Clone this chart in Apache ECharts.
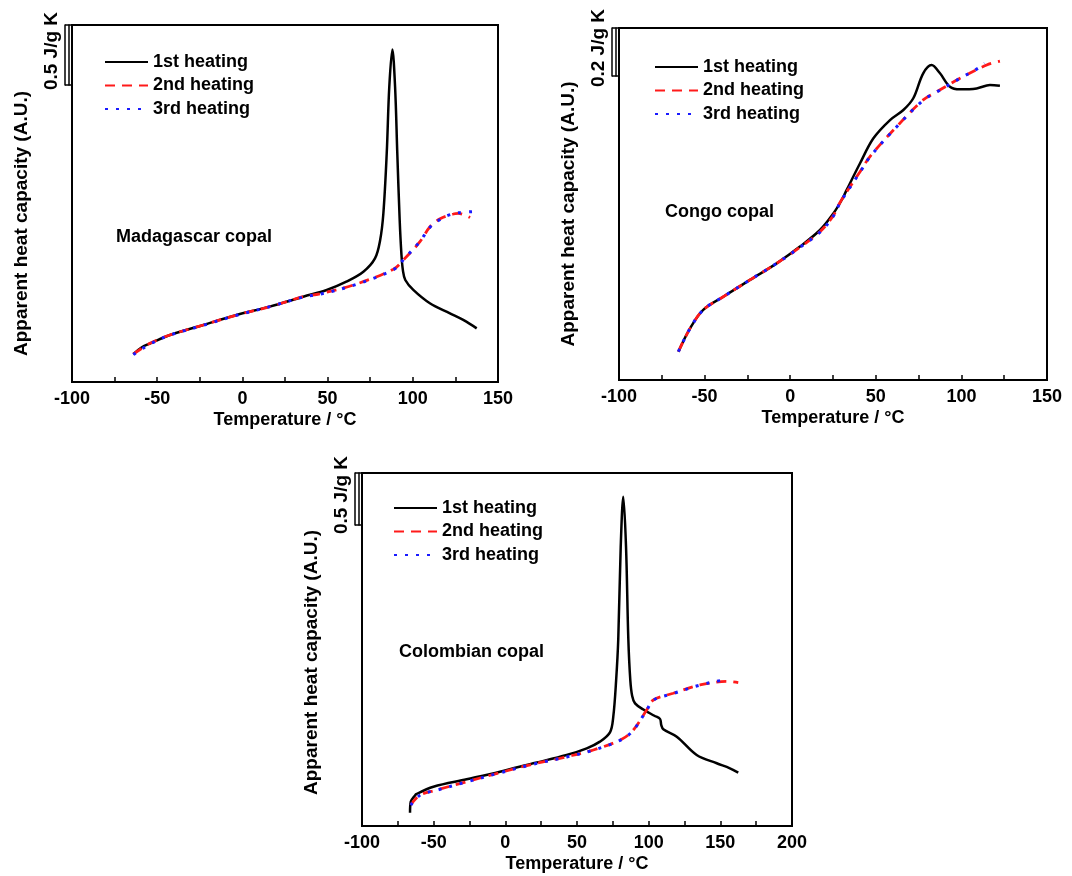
<!DOCTYPE html>
<html><head><meta charset="utf-8">
<script src="https://cdn.jsdelivr.net/npm/echarts@6/dist/echarts.min.js"></script>
<style>html,body{margin:0;padding:0;background:#fff}#c{width:1072px;height:876px}</style>
</head><body><div id="c"></div>
<script>
// ---- data ----
const seriesNames = ['1st heating', '2nd heating', '3rd heating'];
const panelTitles = ['Madagascar copal', 'Congo copal', 'Colombian copal'];
const scaleBarValues = [0.5, 0.2, 0.5];
const scaleBarLabels = ['0.5 J/g K', '0.2 J/g K', '0.5 J/g K'];
const xTickStep = 50;

// Madagascar copal
const mad1T  = [-64, -59, -54, -42.5, -23, -3.4, 16, 35.7, 49.5, 61, 71, 77.8, 80.8, 82.7, 84.7, 86.2, 88, 89.6, 90.9, 92.3, 93.3, 94.2, 95.6, 100.3, 110, 121.8, 129.6, 137.5];
const mad1Cp = [0.233, 0.29, 0.322, 0.392, 0.475, 0.558, 0.628, 0.711, 0.767, 0.836, 0.919, 1.03, 1.18, 1.40, 1.906, 2.46, 2.77, 2.46, 1.906, 1.35, 1.07, 0.93, 0.85, 0.767, 0.656, 0.572, 0.517, 0.447];
const mad2T  = [-64, -54.2, -42.5, -22.9, -3.4, 16.2, 35.7, 45.5, 65.1, 88.6, 94.5, 104.2, 110.1, 116, 123.8, 126.7, 133.6];
const mad2Cp = [0.233, 0.322, 0.392, 0.475, 0.558, 0.628, 0.711, 0.735, 0.808, 0.939, 1.017, 1.169, 1.294, 1.36, 1.40, 1.405, 1.37];
const mad3T  = [-64, -54, -42.5, -23, -3.4, 16.2, 35.7, 45.5, 65.1, 88.6, 94.5, 104.2, 110.1, 116, 121, 126.7, 135.2];
const mad3Cp = [0.228, 0.318, 0.39, 0.472, 0.556, 0.628, 0.708, 0.732, 0.805, 0.936, 1.02, 1.172, 1.29, 1.355, 1.39, 1.41, 1.42];

// Congo copal
const con1T  = [-65.3, -58.5, -50.8, -39.1, -23.5, -7.9, 5.7, 17.4, 25.2, 30.1, 33, 40.8, 48.6, 58.3, 66.1, 71.9, 77.7, 82.6, 87.5, 93.3, 99.2, 108.9, 116.7, 122.5];
const con1Cp = [0.118, 0.215, 0.292, 0.347, 0.417, 0.486, 0.556, 0.625, 0.694, 0.75, 0.792, 0.903, 1.007, 1.083, 1.125, 1.174, 1.278, 1.3125, 1.278, 1.222, 1.211, 1.215, 1.229, 1.226];
const con2T  = [-65.3, -58.5, -50.8, -39.1, -23.5, -7.9, 5.7, 17.4, 25.2, 29.1, 40.8, 46.6, 62.2, 77.7, 85.6, 99.2, 114.8, 122.5];
const con2Cp = [0.118, 0.215, 0.292, 0.347, 0.417, 0.486, 0.553, 0.618, 0.685, 0.74, 0.868, 0.931, 1.056, 1.167, 1.201, 1.257, 1.3125, 1.329];
const con3T  = [-65.3, -58.5, -50.8, -39.1, -23.5, -7.9, 5.7, 17.4, 25.2, 29.1, 40.8, 46.6, 62.2, 77.7, 85.6, 99.2, 110, 113.5];
const con3Cp = [0.118, 0.215, 0.292, 0.347, 0.417, 0.486, 0.553, 0.616, 0.683, 0.738, 0.866, 0.93, 1.055, 1.166, 1.2, 1.257, 1.30, 1.32];

// Colombian copal
const col1T  = [-66.5, -66, -63.5, -61.9, -50.2, -27, -3.7, 19.5, 42.8, 56.8, 66, 73, 75.3, 77.3, 78.8, 80.5, 82.3, 84.2, 85.8, 87.2, 88.5, 90.5, 96.3, 104, 107.9, 108.8, 110.2, 119.6, 133.5, 147.5, 156.7, 162.5];
const col1Cp = [0.128, 0.234, 0.285, 0.308, 0.378, 0.449, 0.522, 0.603, 0.683, 0.747, 0.811, 0.9, 1.05, 1.4, 1.8, 2.686, 3.166, 2.686, 1.8, 1.4, 1.25, 1.179, 1.12, 1.06, 1.03, 0.97, 0.93, 0.859, 0.683, 0.603, 0.555, 0.513];
const col2T  = [-66, -59.5, -47.9, -27, -3.7, 19.5, 42.8, 61.4, 81.2, 89.3, 98.6, 103.3, 117.2, 135.8, 154.4, 162.5];
const col2Cp = [0.202, 0.298, 0.346, 0.426, 0.513, 0.596, 0.666, 0.731, 0.834, 0.923, 1.115, 1.212, 1.276, 1.356, 1.39, 1.378];
const col3T  = [-66, -59.5, -47.9, -27, -3.7, 19.5, 42.8, 61.4, 81.2, 89.3, 98.6, 103.3, 117.2, 135.8, 150, 154.4];
const col3Cp = [0.2, 0.296, 0.344, 0.424, 0.511, 0.594, 0.664, 0.729, 0.832, 0.921, 1.113, 1.21, 1.274, 1.355, 1.398, 1.404];

const panelData = [
  [[mad1T, mad1Cp], [mad2T, mad2Cp], [mad3T, mad3Cp]],
  [[con1T, con1Cp], [con2T, con2Cp], [con3T, con3Cp]],
  [[col1T, col1Cp], [col2T, col2Cp], [col3T, col3Cp]]
];

// ---- layout (not data) ----
const FONT = '"Liberation Sans", Arial, sans-serif';
const layout = [
  {left: 72,  top: 25,  width: 426, height: 357, xMin: -100, xMax: 150, yMax: 2.975, nameShift: 20, legend: [104, 53],  title: [116, 228]},
  {left: 619, top: 28,  width: 428, height: 352, xMin: -100, xMax: 150, yMax: 1.4667, nameShift: 10, legend: [654, 58], title: [665, 203]},
  {left: 362, top: 473, width: 430, height: 353, xMin: -100, xMax: 200, yMax: 3.394, nameShift: 13, legend: [393, 499], title: [399, 643]}
];
const lineStyles = [
  {color: '#000000', width: 2.5, type: 'solid'},
  {color: '#ff1a1a', width: 2.8, type: [10, 7]},
  {color: '#1a1aff', width: 3, type: [3, 8]}
];

const grids = [], xAxes = [], yAxes = [], series = [], legends = [], graphics = [];
const txt = (size) => ({fontFamily: FONT, fontWeight: 'bold', fontSize: size, color: '#000'});

layout.forEach((p, i) => {
  grids.push({left: p.left, top: p.top, width: p.width, height: p.height, show: true,
    borderColor: '#000', borderWidth: 2, backgroundColor: 'transparent', outerBoundsMode: 'none'});
  xAxes.push({gridIndex: i, type: 'value', min: p.xMin, max: p.xMax, interval: xTickStep,
    axisLine: {show: true, onZero: false, lineStyle: {color: '#000', width: 2}},
    axisTick: {show: true, inside: true, length: 5, lineStyle: {color: '#000', width: 1.5}},
    minorTick: {show: true, splitNumber: 2, length: 5, lineStyle: {color: '#000', width: 1.5}},
    axisLabel: Object.assign({margin: 8}, txt(18)),
    splitLine: {show: false},
    name: 'Temperature / °C', nameLocation: 'middle', nameGap: 29, nameTextStyle: txt(18)});
  yAxes.push({gridIndex: i, type: 'value', min: 0, max: p.yMax,
    axisLine: {show: false}, axisTick: {show: false}, axisLabel: {show: false}, splitLine: {show: false},
    name: 'Apparent heat capacity (A.U.)', nameLocation: 'middle', nameRotate: 90, nameGap: 41,
    nameTextStyle: Object.assign({padding: [0, 2 * p.nameShift, 0, 0]}, txt(19))});
  legends.push({left: p.legend[0], top: p.legend[1], orient: 'vertical', padding: 0, itemWidth: 43, itemHeight: 14,
    itemGap: 5.5, data: seriesNames, selectedMode: false, textStyle: txt(18),
    itemStyle: {opacity: 0}});
  graphics.push({type: 'text', left: p.title[0], top: p.title[1],
    style: {text: panelTitles[i], font: 'bold 18px ' + FONT, fill: '#000'}});
  panelData[i].forEach((d, k) => {
    series.push({type: 'line', name: seriesNames[k], xAxisIndex: i, yAxisIndex: i,
      data: d[0].map((t, j) => [t, d[1][j]]), symbol: 'none', smooth: 0.35,
      color: lineStyles[k].color, itemStyle: {color: lineStyles[k].color},
      lineStyle: lineStyles[k], z: 2 + k, animation: false});
  });
});

// scale bars: small grids whose height corresponds to the scale value on the panel axis
layout.forEach((p, i) => {
  const barH = p.height * scaleBarValues[i] / p.yMax;
  grids.push({left: p.left - 7, top: p.top, width: 4, height: barH, show: false, outerBoundsMode: 'none'});
  xAxes.push({gridIndex: 3 + i, type: 'value', min: 0, max: 1, show: false});
});
layout.forEach((p, i) => {
  yAxes.push({gridIndex: 3 + i, type: 'value', position: 'left', min: 0, max: scaleBarValues[i], interval: scaleBarValues[i],
    axisLine: {show: true, lineStyle: {color: '#000', width: 1.5}},
    axisTick: {show: true, inside: true, length: 7, lineStyle: {color: '#000', width: 1.5}},
    axisLabel: {show: false}, splitLine: {show: false},
    name: scaleBarLabels[i], nameLocation: 'middle', nameRotate: 90, nameGap: 4,
    nameTextStyle: Object.assign({padding: [0, 0, 0, 8]}, txt(19))});
});
layout.forEach((p, i) => {
  yAxes.push({gridIndex: 3 + i, type: 'value', position: 'right', min: 0, max: scaleBarValues[i],
    axisLine: {show: true, lineStyle: {color: '#000', width: 1.5}},
    axisTick: {show: false}, axisLabel: {show: false}, splitLine: {show: false}});
});

const chart = echarts.init(document.getElementById('c'), null, {renderer: 'canvas'});
chart.setOption({
  animation: false,
  backgroundColor: '#fff',
  grid: grids, xAxis: xAxes, yAxis: yAxes, legend: legends, series: series, graphic: graphics
});
</script></body></html>
